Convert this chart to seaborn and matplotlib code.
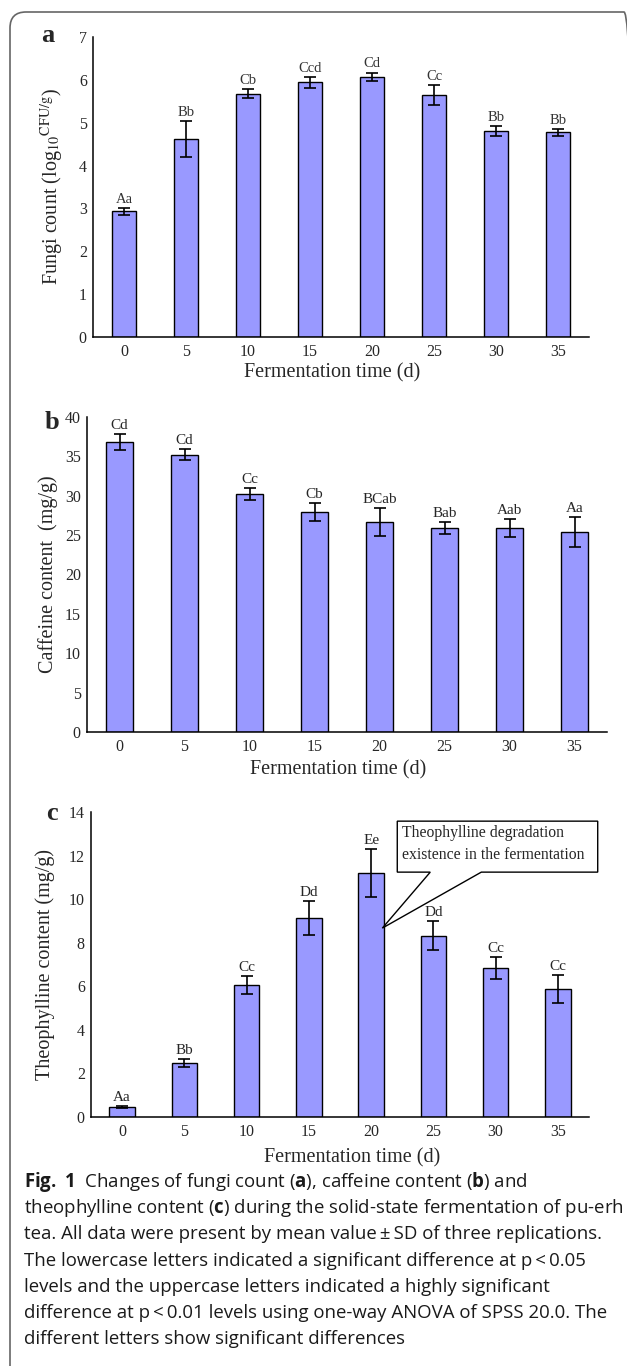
import numpy as np
import pandas as pd
import seaborn as sns
import matplotlib.pyplot as plt
from matplotlib.patches import FancyBboxPatch, Polygon

sns.set_style("white")
plt.rcParams['font.family'] = ['Liberation Serif', 'DejaVu Serif']
plt.rcParams['mathtext.fontset'] = 'custom'
plt.rcParams['mathtext.rm'] = 'Open Sans'
plt.rcParams['mathtext.bf'] = 'Open Sans:bold'

# data (mean, SD, significance letters)
days = ['0', '5', '10', '15', '20', '25', '30', '35']

fungi_mean = [2.93, 4.62, 5.68, 5.94, 6.07, 5.65, 4.81, 4.78]
fungi_sd = [0.08, 0.41, 0.10, 0.12, 0.10, 0.23, 0.12, 0.08]
fungi_sig = ['Aa', 'Bb', 'Cb', 'Ccd', 'Cd', 'Cc', 'Bb', 'Bb']

caffeine_mean = [36.8, 35.2, 30.2, 27.95, 26.7, 25.9, 25.9, 25.4]
caffeine_sd = [1.05, 0.7, 0.75, 1.1, 1.75, 0.8, 1.2, 1.85]
caffeine_sig = ['Cd', 'Cd', 'Cc', 'Cb', 'BCab', 'Bab', 'Aab', 'Aa']

theo_mean = [0.45, 2.48, 6.06, 9.12, 11.2, 8.33, 6.84, 5.86]
theo_sd = [0.05, 0.2, 0.4, 0.78, 1.1, 0.65, 0.52, 0.65]
theo_sig = ['Aa', 'Bb', 'Cc', 'Dd', 'Ee', 'Dd', 'Cc', 'Cc']

caption = [
    r"$\mathbf{Fig.}$ $\mathbf{1}$  Changes of fungi count ($\mathbf{a}$), caffeine content ($\mathbf{b}$) and",
    r"theophylline content ($\mathbf{c}$) during the solid-state fermentation of pu-erh",
    "tea. All data were present by mean value\u2009\u00b1\u2009SD of three replications.",
    "The lowercase letters indicated a significant difference at p\u2009<\u20090.05",
    "levels and the uppercase letters indicated a highly significant",
    "difference at p\u2009<\u20090.01 levels using one-way ANOVA of SPSS 20.0. The",
    "different letters show significant differences",
]

W, H = 627, 1366
fig = plt.figure(figsize=(W / 100, H / 100), dpi=100)


def px(x, y):
    return x / W, 1 - y / H


def make_axes(l, r, t, b):
    return fig.add_axes([l / W, 1 - b / H, (r - l) / W, (b - t) / H])


def panel(ax, box, mean, sd, sig, ymax, step, ylabel, width, ylab_x, xlab, sigkw):
    l, r, t, b = box
    df = pd.DataFrame({'day': days, 'value': mean})
    sns.barplot(data=df, x='day', y='value', color='#9999ff', saturation=1,
                edgecolor='black', linewidth=1, width=width, errorbar=None, ax=ax)
    ax.errorbar(np.arange(len(days)), mean, yerr=sd, fmt='none', ecolor='black',
                elinewidth=1.2, capsize=4, capthick=1.2, zorder=4)
    for i, (m, s, txt) in enumerate(zip(mean, sd, sig)):
        ax.annotate(txt, (i, m + s), xytext=(0, 1.5), textcoords='offset points',
                    ha='center', va='bottom', **sigkw)
    ax.set_xlim(-0.5, 7.5)
    ax.set_ylim(0, ymax)
    ax.set_yticks(np.arange(0, ymax + step / 2, step))
    ax.set_xticks(np.arange(0.5, 7, 1), minor=True)
    ax.tick_params(axis='x', which='major', length=0, pad=5, labelsize=11.5)
    ax.tick_params(axis='x', which='minor', direction='in', length=3, width=1)
    ax.tick_params(axis='y', direction='out', length=3, width=1, pad=1.5, labelsize=11.5)
    for s in ['top', 'right']:
        ax.spines[s].set_visible(False)
    for s in ['left', 'bottom']:
        ax.spines[s].set_linewidth(1.1)
        ax.spines[s].set_color('black')
    ax.set_ylabel(ylabel, fontsize=14.5, va='center', math_fontfamily='stix')
    ax.yaxis.set_label_coords((ylab_x - l) / (r - l), 0.5)
    ax.set_xlabel('Fermentation time (d)', fontsize=14.5, va='center')
    ax.xaxis.set_label_coords((xlab[0] - l) / (r - l), (b - xlab[1]) / (b - t))


box_a = (93, 589, 37, 337)
box_b = (87, 607, 417, 732)
box_c = (91, 589, 812, 1117)

ax_a = make_axes(*box_a)
panel(ax_a, box_a, fungi_mean, fungi_sd, fungi_sig, 7, 1,
      r'Fungi count (log$_{10}{}^{\mathrm{CFU/g}}$)', 0.4, 52, (332, 373),
      dict(fontsize=10.5, color='#333333'))

ax_b = make_axes(*box_b)
panel(ax_b, box_b, caffeine_mean, caffeine_sd, caffeine_sig, 40, 5,
      'Caffeine content  (mg/g)', 0.43, 48, (338, 770), dict(fontsize=11))

ax_c = make_axes(*box_c)
panel(ax_c, box_c, theo_mean, theo_sd, theo_sig, 14, 2,
      'Theophylline content (mg/g)', 0.41, 45, (352, 1158), dict(fontsize=11))

# callout box in panel c
x0, x1, y0, y1 = 4.42, 7.64, 11.24, 13.58
callout = Polygon([(x0, y1), (x1, y1), (x1, y0), (5.77, y0), (4.18, 8.67),
                   (4.95, y0), (x0, y0)], closed=True, facecolor='white',
                  edgecolor='black', linewidth=1, clip_on=False, zorder=6)
ax_c.add_patch(callout)
ax_c.text(4.50, 13.03, 'Theophylline degradation', fontsize=11.3, va='center', zorder=7)
ax_c.text(4.50, 12.02, 'existence in the fermentation', fontsize=11.3, va='center', zorder=7)

# panel letters
for letter, (x, y) in zip('abc', [(48, 36), (52, 423), (52, 814)]):
    fig.text(*px(x, y), letter, fontsize=19, fontweight='bold', ha='center', va='center')

# caption
for i, line in enumerate(caption):
    fig.text(*px(24, 1182 + 26.2 * i), line, fontsize=13.4, va='center', ha='left',
             color='#1a1a1a', family=['Open Sans', 'DejaVu Sans'], math_fontfamily='custom')

# frame with rounded corner
frame = FancyBboxPatch((10 / 100, -0.5), (640 - 10) / 100, (H - 12) / 100 + 0.5,
                       boxstyle='round,pad=0,rounding_size=0.16',
                       transform=fig.dpi_scale_trans, facecolor='none',
                       edgecolor='#666666', linewidth=1.2, clip_on=False)
fig.patches.append(frame)

fig.savefig('out.png', dpi=100)
